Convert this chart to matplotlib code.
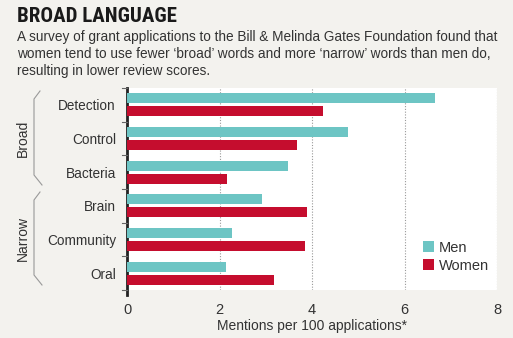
import matplotlib.pyplot as plt
from matplotlib.lines import Line2D

categories = ['Detection', 'Control', 'Bacteria', 'Brain', 'Community', 'Oral']
men = [6.65, 4.77, 3.48, 2.92, 2.27, 2.14]
women = [4.23, 3.67, 2.16, 3.89, 3.85, 3.18]
xticks = [0, 2, 4, 6, 8]

TEAL = '#6dc5c4'
RED = '#c50d2e'
BG = '#f3f2ee'
TXT = '#333333'
FONT = ['Liberation Sans', 'DejaVu Sans']
NARROW = ['Roboto Condensed', 'Liberation Sans Narrow', 'Open Sans Condensed', 'Liberation Sans']

plt.rcParams['font.family'] = FONT

fig = plt.figure(figsize=(5.13, 3.38), dpi=100, facecolor=BG)
ax = fig.add_axes([127 / 513, 1 - 290 / 338, 370 / 513, 202 / 338])
ax.set_facecolor('white')

pos = list(range(len(categories)))
ax.barh([p - 0.195 for p in pos], men, height=0.3, color=TEAL, label='Men', zorder=3)
ax.barh([p + 0.195 for p in pos], women, height=0.3, color=RED, label='Women', zorder=3)

ax.set_xlim(0, 8)
ax.set_ylim(len(categories) - 0.5, -0.5)
ax.set_xticks(xticks)
ax.set_xticklabels([str(t) for t in xticks], fontsize=10.5, color=TXT)
ax.tick_params(axis='x', length=0, pad=9)

# category names sit between the group separator ticks
ax.set_yticks(pos)
ax.set_yticklabels(categories, fontsize=9.8, color=TXT)
ax.tick_params(axis='y', length=0, pad=8)
for b in [p - 0.5 for p in pos] + [len(categories) - 0.5]:
    ax.plot([-0.1, 0], [b, b], color='#666666', lw=0.8, clip_on=False, zorder=4)

for x in xticks[1:]:
    ax.axvline(x, color='#999999', lw=0.8, ls=(0, (1, 1.5)), zorder=1)

for s in ['top', 'right', 'bottom']:
    ax.spines[s].set_visible(False)
ax.spines['left'].set_color('#222222')
ax.spines['left'].set_linewidth(2)
ax.spines['left'].set_bounds(len(categories) - 0.35, -0.5)

ax.set_xlabel('Mentions per 100 applications*', fontsize=10, color=TXT, labelpad=2)

leg = ax.legend(loc='upper left', bbox_to_anchor=(0.8, 0.245), frameon=False,
                fontsize=10.5, handlelength=0.75, handleheight=0.75,
                handletextpad=0.35, labelspacing=0.3, borderpad=0, borderaxespad=0)
for t in leg.get_texts():
    t.set_color(TXT)

# group brackets on the left
def bracket(y0, y1, label):
    xs = [40, 34, 34, 42]
    ys = [y0, y0 + 8, y1 - 10, y1]
    fig.add_artist(Line2D([x / 513 for x in xs], [1 - y / 338 for y in ys],
                          color='#999999', lw=0.8))
    fig.text(23 / 513, 1 - (y0 + y1) / 2 / 338, label, rotation=90,
             ha='center', va='center', fontsize=10, color=TXT)

bracket(91, 185, 'Broad')
bracket(192, 285, 'Narrow')

fig.text(17 / 513, 1 - 17 / 338, 'BROAD LANGUAGE', fontsize=15, family=NARROW,
         fontweight='bold', color='#1a1a1a', va='center')
fig.text(17 / 513, 1 - 30 / 338,
         'A survey of grant applications to the Bill & Melinda Gates Foundation found that\n'
         'women tend to use fewer \u2018broad\u2019 words and more \u2018narrow\u2019 words than men do,\n'
         'resulting in lower review scores.',
         fontsize=9.8, color=TXT, va='top', linespacing=1.25)

fig.savefig('out.png', dpi=100, facecolor=BG)
